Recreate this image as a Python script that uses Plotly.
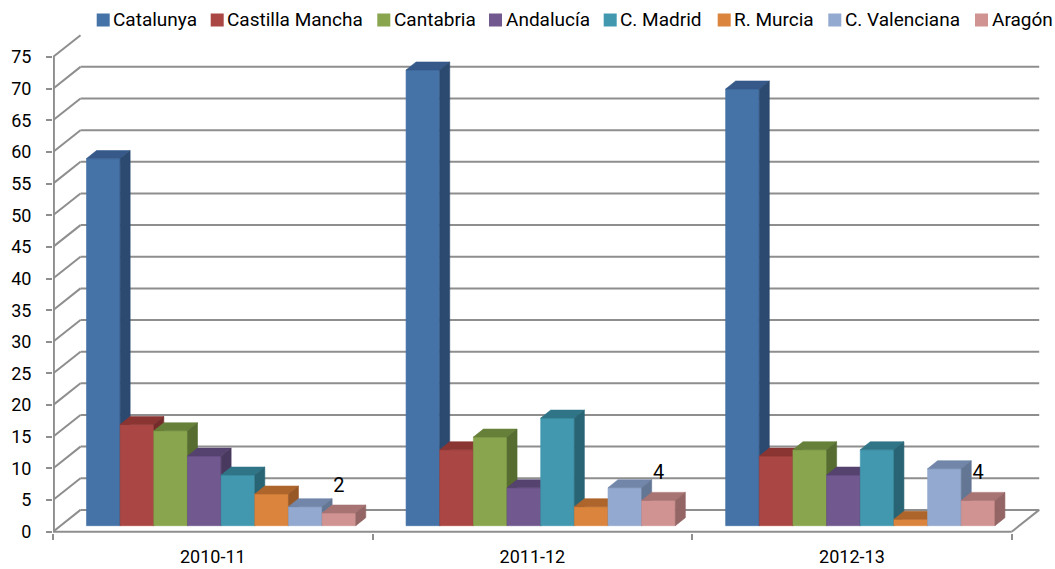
import plotly.graph_objects as go

# ---------------- data ----------------
categories = ["2010-11", "2011-12", "2012-13"]
series_names = ["Catalunya", "Castilla Mancha", "Cantabria", "Andalucía",
                "C. Madrid", "R. Murcia", "C. Valenciana", "Aragón"]
catalunya = [58, 72, 69]
castilla_mancha = [16, 12, 11]
cantabria = [15, 14, 12]
andalucia = [11, 6, 8]
c_madrid = [8, 17, 12]
r_murcia = [5, 3, 1]
c_valenciana = [3, 6, 9]
aragon = [2, 4, 4]
y_tick_values = list(range(0, 80, 5))
labelled_series = "Aragón"

series_values = [catalunya, castilla_mancha, cantabria, andalucia,
                 c_madrid, r_murcia, c_valenciana, aragon]

# ---------------- styles ----------------
front_colors = ["#4572A7", "#AA4643", "#89A54E", "#71588F",
                "#4198AF", "#DB843D", "#93A9CF", "#D19392"]
top_colors = ["#36598A", "#8A3532", "#66803A", "#56426E",
              "#2F7587", "#AE652C", "#7186A9", "#A87473"]
side_colors = ["#2C4A70", "#742B29", "#566C30", "#4A395F",
               "#286474", "#985826", "#637694", "#936564"]
grid_color = "#8E8E8E"
font_family = "Roboto, Arial, sans-serif"

# ---------------- layout geometry ----------------
W, H = 1055, 569
ML, MR, MT, MB = 53, 10, 30, 36
PW, PH = W - ML - MR, H - MT - MB
PX_X = 319.57          # pixels per category unit
PX_Y = 6.329           # pixels per value unit
Y0_PX = 531.7          # pixel row of value 0 (front plane)
plot_bottom = H - MB
y_min = -(plot_bottom - Y0_PX) / PX_Y
y_max = y_min + PH / PX_Y
x_min = -0.5
x_max = x_min + PW / PX_X

DXB, DYB = 27.5 / PX_X, 21.8 / PX_Y     # back-wall depth offset
DX, DY = 10.0 / PX_X, 8.0 / PX_Y        # bar depth offset
BAR_W = 33.66 / PX_X
GROUP_LEFT = -0.3952
BAR_BASE = 6.0 / PX_Y

fig = go.Figure()
shapes = []

def seg(x0, y0, x1, y1, width=2, color=grid_color):
    shapes.append(dict(type="line", xref="x", yref="y", x0=x0, y0=y0, x1=x1, y1=y1,
                       line=dict(color=color, width=width), layer="below"))

# back wall gridlines and left wall diagonals
for v in y_tick_values:
    seg(-0.5, v, -0.5 + DXB, v + DYB)
    if v != y_tick_values[-1]:
        seg(-0.5 + DXB, v + DYB, 2.5 + DXB, v + DYB)
# vertical axis line
seg(-0.5 + 0.9 / PX_X, 0, -0.5 + 0.9 / PX_X, y_tick_values[-1])
# floor
seg(-0.5, 0, 2.5, 0)
seg(2.5, 0, 2.5 + DXB, DYB)

# bars (front, top, side faces drawn left to right)
def poly(xs, ys, color):
    fig.add_trace(go.Scatter(x=xs + [xs[0]], y=ys + [ys[0]], mode="lines", fill="toself",
                             fillcolor=color, line=dict(color=color, width=0.6),
                             hoverinfo="skip", showlegend=False))

for ci, cat in enumerate(categories):
    for si, vals in enumerate(series_values):
        v = vals[ci]
        l = ci + GROUP_LEFT + si * BAR_W
        r = l + BAR_W
        b = BAR_BASE
        t = v + BAR_BASE
        poly([l, r, r, l], [b, b, t, t], front_colors[si])
        poly([l, r, r + DX, l + DX], [t, t, t + DY, t + DY], top_colors[si])
        poly([r, r + DX, r + DX, r], [b, b + DY, t + DY, t], side_colors[si])

# value labels for the labelled series
li = series_names.index(labelled_series)
lab_x = [ci + GROUP_LEFT + li * BAR_W + BAR_W / 2 for ci in range(len(categories))]
lab_y = [v + BAR_BASE + 4.1 for v in series_values[li]]
fig.add_trace(go.Scatter(x=lab_x, y=lab_y, mode="text",
                         text=[str(v) for v in series_values[li]],
                         textposition="middle center",
                         textfont=dict(family=font_family, size=20, color="#000000"),
                         hoverinfo="skip", showlegend=False, cliponaxis=False))

# manual legend (squares + text)
legend_left_px = [96.7, 210.7, 377.3, 489.0, 603.7, 717.7, 828.3, 975.0]
annotations = []
SQ = 13
for i, name in enumerate(series_names):
    x0 = legend_left_px[i]
    shapes.append(dict(type="rect", xref="paper", yref="paper",
                       x0=(x0 - ML) / PW, x1=(x0 + SQ - ML) / PW,
                       y0=(plot_bottom - 26.5) / PH, y1=(plot_bottom - 13.5) / PH,
                       fillcolor=front_colors[i], line=dict(width=0)))
    annotations.append(dict(xref="paper", yref="paper",
                            x=(x0 + 14.5 - ML) / PW, y=(plot_bottom - 20.0) / PH,
                            xanchor="left", yanchor="middle", showarrow=False,
                            text=name, font=dict(family=font_family, size=19, color="#000000")))

fig.update_layout(
    width=W, height=H,
    margin=dict(l=ML, r=MR, t=MT, b=MB, pad=0),
    paper_bgcolor="white", plot_bgcolor="white",
    showlegend=False,
    shapes=shapes, annotations=annotations,
    xaxis=dict(range=[x_min, x_max], tickmode="array", tickvals=list(range(len(categories))),
               ticktext=categories, ticks="", showgrid=False, zeroline=False, showline=False,
               tickfont=dict(family=font_family, size=18, color="#000000"),
               ticklabelstandoff=11, automargin=False, fixedrange=True,
               minor=dict(tickmode="linear", tick0=-0.5, dtick=1, ticks="outside",
                          ticklen=6, tickwidth=2, tickcolor=grid_color, showgrid=False)),
    yaxis=dict(range=[y_min, y_max], tickmode="array", tickvals=y_tick_values,
               ticks="outside", ticklen=6, tickwidth=2, tickcolor=grid_color,
               showgrid=False, zeroline=False, showline=False,
               tickfont=dict(family=font_family, size=18, color="#000000"),
               ticklabelstandoff=11, automargin=False, fixedrange=True),
)

fig.write_html("out.html", config={"displayModeBar": False},
               post_script="document.body.style.margin='0';document.body.style.overflow='hidden';")
